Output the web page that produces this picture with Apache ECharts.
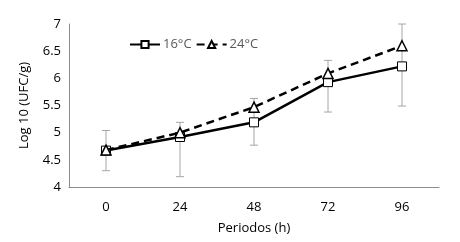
<!DOCTYPE html>
<html>
<head>
<meta charset="utf-8">
<script src="https://cdn.jsdelivr.net/npm/echarts@6/dist/echarts.min.js"></script>
<style>
  html, body { margin: 0; padding: 0; background: #fff; }
  #chart { width: 460px; height: 242px; }
</style>
</head>
<body>
<div id="chart"></div>
<script type="text/javascript">
	var periodos = ['0', '24', '48', '72', '96'];
	var temp16 = [4.67, 4.92, 5.19, 5.93, 6.22];
	var temp24 = [4.68, 5.00, 5.47, 6.09, 6.60];
	var errLow = [4.30, 4.19, 4.77, 5.38, 5.49];
	var errHigh = [5.04, 5.19, 5.63, 6.33, 7.00];
	var yTicks = [4, 4.5, 5, 5.5, 6, 6.5, 7];

	var chart = echarts.init(document.getElementById('chart'));
	var font = 'Open Sans';
	var errData = periodos.map(function (p, i) { return [i, errLow[i], errHigh[i]]; });

	var option = {
		animation: false,
		textStyle: { fontFamily: font },
		legend: {
			data: ['16°C', '24°C'],
			left: 124,
			top: 33,
			itemGap: 4,
			itemWidth: 30,
			itemHeight: 9,
			textStyle: { color: '#595959', fontSize: 13, fontFamily: font, padding: [0, 0, 0, -2] }
		},
		grid: { left: 69, right: 21, top: 24, bottom: 55 },
		xAxis: {
			type: 'category',
			data: periodos,
			boundaryGap: true,
			name: 'Periodos (h)',
			nameLocation: 'middle',
			nameGap: 35,
			nameTextStyle: { color: '#000', fontSize: 13 },
			axisLine: { lineStyle: { color: '#8c8c8c', width: 1 } },
			axisTick: { show: false },
			axisLabel: { color: '#000', fontSize: 13, margin: 14 }
		},
		yAxis: {
			type: 'value',
			min: 4,
			max: 7,
			interval: 0.5,
			name: 'Log 10 (UFC/g)',
			nameLocation: 'middle',
			nameGap: 38,
			nameTextStyle: { color: '#000', fontSize: 13 },
			axisLine: { show: true, lineStyle: { color: '#8c8c8c', width: 1 } },
			axisTick: { show: false },
			splitLine: { show: false },
			axisLabel: {
				color: '#000', fontSize: 13, margin: 8,
				formatter: function (v) { return yTicks.indexOf(v) >= 0 ? String(v) : ''; }
			}
		},
		series: [
			{
				name: 'errors',
				type: 'custom',
				z: 1,
				renderItem: function (params, api) {
					var lo = api.coord([api.value(0), api.value(1)]);
					var hi = api.coord([api.value(0), api.value(2)]);
					var w = 4;
					var st = { stroke: '#a6a6a6', lineWidth: 1 };
					return {
						type: 'group',
						children: [
							{ type: 'line', shape: { x1: hi[0], y1: hi[1], x2: lo[0], y2: lo[1] }, style: st },
							{ type: 'line', shape: { x1: hi[0] - w, y1: hi[1], x2: hi[0] + w, y2: hi[1] }, style: st },
							{ type: 'line', shape: { x1: lo[0] - w, y1: lo[1], x2: lo[0] + w, y2: lo[1] }, style: st }
						]
					};
				},
				data: errData
			},
			{
				name: '16°C',
				type: 'line',
				z: 3,
				data: temp16,
				symbol: 'rect',
				symbolSize: 9,
				showAllSymbol: true,
				itemStyle: { color: '#fff', borderColor: '#000', borderWidth: 1 },
				lineStyle: { color: '#000', width: 2.5 }
			},
			{
				name: '24°C',
				type: 'line',
				z: 4,
				data: temp24,
				symbol: 'triangle',
				symbolSize: 10,
				itemStyle: { color: '#fff', borderColor: '#000', borderWidth: 1.5 },
				lineStyle: { color: '#000', width: 2.5, type: [8, 5] }
			}
		]
	};
	chart.setOption(option);
</script>
</body>
</html>
